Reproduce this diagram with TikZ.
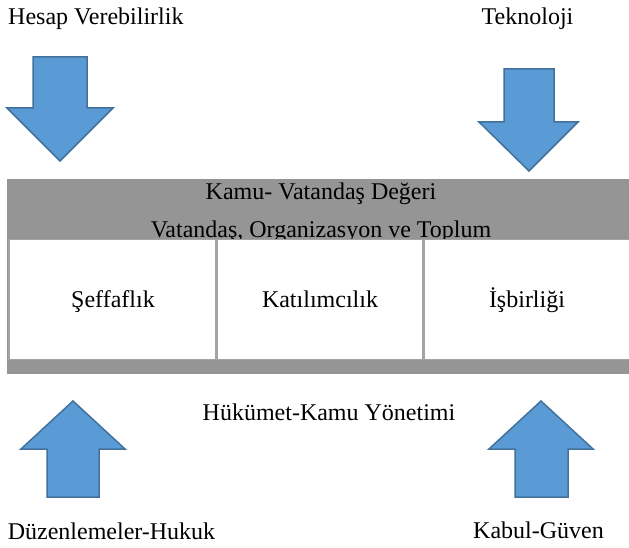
\documentclass[tikz,border=0pt]{standalone}
\usepackage{fontspec}
\setmainfont{Liberation Serif}
\definecolor{arrowfill}{HTML}{5B9BD5}
\definecolor{arrowline}{HTML}{41719C}
\definecolor{bandgray}{HTML}{959595}
\definecolor{divgray}{HTML}{A3A3A3}
\begin{document}
\begin{tikzpicture}[x=1pt,y=-1pt,
  lbl/.style={inner sep=0pt,anchor=base,font=\fontsize{24}{28}\selectfont},
  blockarrow/.style={fill=arrowfill,draw=arrowline,line width=1.5pt,line join=miter},
  cellbox/.style={fill=white,draw=none}]
\useasboundingbox (0,0) rectangle (629,548);
% gray band
\fill[bandgray] (7,179) rectangle (629,374);
\node[lbl] (kamu) at (321,200) {Kamu- Vatandaş Değeri};
\node[lbl] (vat) at (321,237.5) {Vatandaş, Organizasyon ve Toplum};
% white cells
\fill[divgray] (8,239) rectangle (629,360);
\fill[cellbox] (10,239.5) rectangle (215,358.5);
\fill[cellbox] (218,239.5) rectangle (422,358.5);
\fill[cellbox] (425,239.5) rectangle (629,358.5);
\node[lbl] (sef) at (113,307) {Şeffaflık};
\node[lbl] (kat) at (320,307) {Katılımcılık};
\node[lbl] (isb) at (527,307) {İşbirliği};
% top labels and arrows
\node[lbl,anchor=base west] (hesap) at (8,25) {Hesap Verebilirlik};
\node[lbl] (tek) at (527.5,25) {Teknoloji};
\draw[blockarrow] (33,57) -- (87,57) -- (87,108) -- (113,108) -- (60,161) -- (7,108) -- (33,108) -- cycle;
\draw[blockarrow] (504,69) -- (554,69) -- (554,122) -- (578,122) -- (529,171) -- (479,122) -- (504,122) -- cycle;
% bottom labels and arrows
\node[lbl] (huk) at (329,420) {Hükümet-Kamu Yönetimi};
\draw[blockarrow] (73,401) -- (125,449) -- (99,449) -- (99,497) -- (47,497) -- (47,449) -- (21,449) -- cycle;
\draw[blockarrow] (541,401) -- (593,449) -- (568,449) -- (568,497) -- (515,497) -- (515,449) -- (489,449) -- cycle;
\node[lbl] (duz) at (111.5,539) {Düzenlemeler-Hukuk};
\node[lbl] (kab) at (538.5,538) {Kabul-Güven};
\end{tikzpicture}
\end{document}
